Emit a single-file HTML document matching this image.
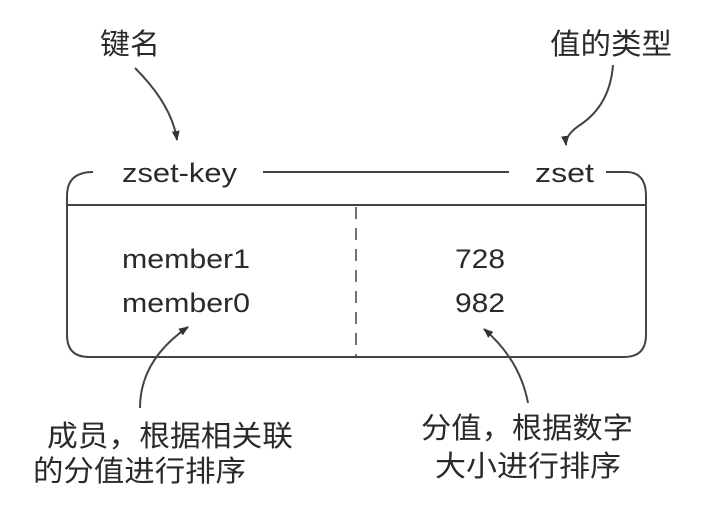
<!DOCTYPE html>
<html><head><meta charset="utf-8"><style>
html,body{margin:0;padding:0;background:#fff;}
svg{display:block}
text{font-family:"Liberation Sans","Noto Sans CJK SC",sans-serif;fill:#2a2a2a}
</style></head><body>
<svg width="724" height="516" viewBox="0 0 724 516" xmlns="http://www.w3.org/2000/svg">
<defs><marker id="a" markerWidth="12" markerHeight="12" refX="9" refY="5" orient="auto" markerUnits="userSpaceOnUse"><path d="M0,1 L10,5 L0,9 Z" fill="#333"/></marker></defs>
<g stroke="#444" stroke-width="2" fill="none">
<path d="M93,172 Q67,172 67,196 L67,335 Q67,357 89,357 L624,357 Q646,357 646,335 L646,196 Q646,172 626,172 L606,172"/>
<line x1="263" y1="172" x2="509" y2="172"/>
<line x1="67" y1="205" x2="646" y2="205"/>
<line x1="356" y1="207" x2="356" y2="357" stroke-dasharray="12,9" stroke-width="1.5"/>
<path d="M135,68 Q172,105 177,140" marker-end="url(#a)"/>
<path d="M613,65 Q610,105 580,125 Q565,135 566,145" marker-end="url(#a)"/>
<path d="M140,408 Q140,360 188,327" marker-end="url(#a)"/>
<path d="M528,403 Q520,360 484,329" marker-end="url(#a)"/>
</g>
<g font-size="29">
<text x="100" y="54" textLength="60" lengthAdjust="spacingAndGlyphs">键名</text>
<text x="550" y="54" textLength="122" lengthAdjust="spacingAndGlyphs">值的类型</text>
</g>
<g font-size="27">
<text x="122" y="182" textLength="115" lengthAdjust="spacingAndGlyphs">zset-key</text>
<text x="535" y="182" textLength="59" lengthAdjust="spacingAndGlyphs">zset</text>
<text x="122" y="268" textLength="128" lengthAdjust="spacingAndGlyphs">member1</text>
<text x="122" y="312" textLength="128" lengthAdjust="spacingAndGlyphs">member0</text>
<text x="455" y="268" textLength="50" lengthAdjust="spacingAndGlyphs">728</text>
<text x="455" y="312" textLength="50" lengthAdjust="spacingAndGlyphs">982</text>
</g>
<g font-size="29">
<text x="47" y="446" textLength="246" lengthAdjust="spacingAndGlyphs">成员，根据相关联</text>
<text x="33" y="481" textLength="213" lengthAdjust="spacingAndGlyphs">的分值进行排序</text>
<text x="421" y="438" textLength="212" lengthAdjust="spacingAndGlyphs">分值，根据数字</text>
<text x="435" y="476" textLength="186" lengthAdjust="spacingAndGlyphs">大小进行排序</text>
</g>
</svg>
</body></html>
